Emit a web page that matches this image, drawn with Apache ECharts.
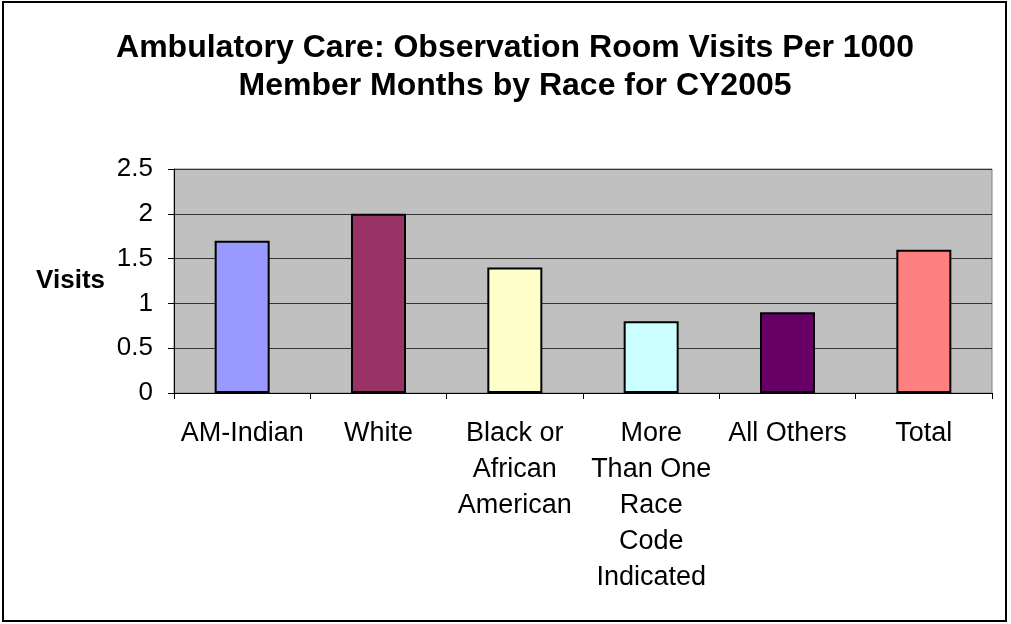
<!DOCTYPE html>
<html>
<head>
<meta charset="utf-8">
<script src="https://cdn.jsdelivr.net/npm/echarts@6/dist/echarts.min.js"></script>
<style>
  html, body { margin: 0; padding: 0; background: #fff; }
  #chart { width: 1011px; height: 624px; }
</style>
</head>
<body>
<div id="chart"></div>
<script>
// Observation room visits per 1000 member months, CY2005
const categories = [
  'AM-Indian',
  'White',
  'Black or\nAfrican\nAmerican',
  'More\nThan One\nRace\nCode\nIndicated',
  'All Others',
  'Total'
];
const visits = [1.7, 2.0, 1.4, 0.8, 0.9, 1.6];
const barColors = ['#9999FF', '#993366', '#FFFFCC', '#CCFFFF', '#660066', '#FF8080'];
const yTicks = [0, 0.5, 1, 1.5, 2, 2.5];

const font = 'Liberation Sans, Arial, sans-serif';
const chart = echarts.init(document.getElementById('chart'), null, { renderer: 'canvas' });

chart.setOption({
  animation: false,
  backgroundColor: '#ffffff',
  title: {
    text: 'Ambulatory Care: Observation Room Visits Per 1000\nMember Months by Race for CY2005',
    left: 510,
    top: 24,
    textAlign: 'center',
    textStyle: {
      fontFamily: font,
      fontSize: 32,
      fontWeight: 'bold',
      color: '#000',
      lineHeight: 38
    }
  },
  graphic: [{
    type: 'rect',
    shape: { x: 3, y: 2, width: 1003, height: 619 },
    style: { fill: 'none', stroke: '#000', lineWidth: 2 },
    z: 100
  }],
  grid: {
    left: 174,
    right: 19,
    top: 169,
    bottom: 231,
    show: true,
    backgroundColor: '#C0C0C0',
    borderColor: '#808080',
    borderWidth: 1
  },
  xAxis: {
    type: 'category',
    data: categories,
    axisLine: { show: true, lineStyle: { color: '#000', width: 1 } },
    axisTick: { show: true, alignWithLabel: false, length: 6, lineStyle: { color: '#000' } },
    axisLabel: {
      interval: 0,
      margin: 23,
      fontFamily: font,
      fontSize: 27,
      lineHeight: 36,
      color: '#000',
      align: 'center'
    },
    splitLine: { show: false }
  },
  yAxis: {
    type: 'value',
    min: 0,
    max: yTicks[yTicks.length - 1],
    interval: yTicks[1] - yTicks[0],
    name: 'Visits',
    nameLocation: 'middle',
    nameRotate: 0,
    nameGap: 69,
    nameTextStyle: {
      fontFamily: font,
      fontSize: 26,
      fontWeight: 'bold',
      color: '#000',
      align: 'right'
    },
    axisLine: { show: true, lineStyle: { color: '#000', width: 1 } },
    axisTick: { show: true, length: 6, lineStyle: { color: '#000' } },
    axisLabel: {
      margin: 21,
      fontFamily: font,
      fontSize: 26,
      color: '#000',
      formatter: v => String(v)
    },
    splitLine: { show: true, lineStyle: { color: '#333333', width: 1 } }
  },
  series: [{
    type: 'bar',
    barWidth: 55,
    data: visits.map((v, i) => ({
      value: v,
      itemStyle: { color: barColors[i], borderColor: '#000', borderWidth: 2 }
    }))
  }]
});
</script>
</body>
</html>
